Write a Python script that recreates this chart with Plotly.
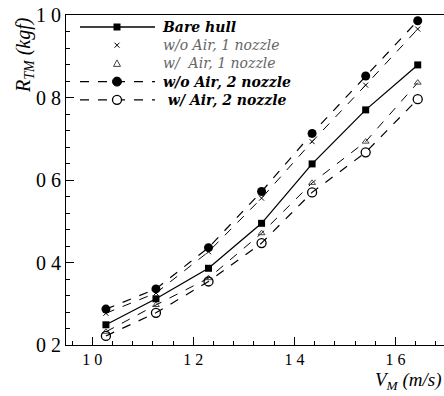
import plotly.graph_objects as go

# ---- data ----
V_M = [10.27, 11.26, 12.30, 13.35, 14.35, 15.41, 16.44]
bare_hull = [0.249, 0.312, 0.386, 0.495, 0.639, 0.770, 0.879]
wo_air_1 = [0.277, 0.326, 0.426, 0.556, 0.693, 0.830, 0.966]
w_air_1 = [0.232, 0.297, 0.362, 0.471, 0.593, 0.693, 0.836]
wo_air_2 = [0.287, 0.336, 0.436, 0.572, 0.713, 0.852, 0.986]
w_air_2 = [0.222, 0.278, 0.354, 0.447, 0.570, 0.667, 0.796]

y_tickvals = [0.2, 0.4, 0.6, 0.8, 1.0]
y_ticktext = ["0 2", "0 4", "0 6", "0 8", "1 0"]
x_tickvals = [10, 12, 14, 16]
x_ticktext = ["1 0", "1 2", "1 4", "1 6"]

legend_labels = ["<b><i>Bare hull</i></b>",
                 "<span style='color:#666'><i>w/o Air, 1 nozzle</i></span>",
                 "<span style='color:#666'><i>w/  Air, 1 nozzle</i></span>",
                 "<b><i>w/o Air, 2 nozzle</i></b>",
                 "<b><i> w/ Air, 2 nozzle</i></b>"]

SERIF = "Liberation Serif"
W, H = 444, 396
ML, MR, MT, MB = 66, 0, 15, 51
PW, PH = W - ML - MR, H - MT - MB
LEG_FONT = 14
LEG_STEP = LEG_FONT * 1.3


def px(xp):  # pixel -> paper x
    return (xp - ML) / PW


def py(yp):  # pixel -> paper y
    return (H - MB - yp) / PH


series = [
    (bare_hull, dict(color="black", width=1.3), dict(symbol="square", size=7, color="black")),
    (wo_air_1, dict(color="black", width=1, dash="dash"),
     dict(symbol="x-thin-open", size=5, color="black", line=dict(width=1, color="black"))),
    (w_air_1, dict(color="black", width=1, dash="dash"),
     dict(symbol="triangle-up-open", size=6, color="#444", line=dict(width=1, color="#444"))),
    (wo_air_2, dict(color="black", width=1.2, dash="dash"), dict(symbol="circle", size=9, color="black")),
    (w_air_2, dict(color="black", width=1.2, dash="dash"),
     dict(symbol="circle-open", size=9, color="black", line=dict(width=1.3, color="black"))),
]

fig = go.Figure()
for (vals, ln, mk), name in zip(series, legend_labels):
    fig.add_trace(go.Scatter(x=V_M, y=vals, mode="lines+markers", name=name,
                             line=ln, marker=mk, showlegend=False))

# ---- hand-drawn legend (no frame), as in the reference ----
row0 = 27
rows_y = [row0 + i * LEG_STEP for i in range(5)]
line_x0, line_x1, mark_x, text_x = 80, 155, 117, 160
shapes = []
for i, yy in enumerate(rows_y):
    if i in (0, 3, 4):
        dash = "solid" if i == 0 else "dash"
        shapes.append(dict(type="line", xref="paper", yref="paper",
                           x0=px(line_x0), x1=px(line_x1), y0=py(yy), y1=py(yy),
                           line=dict(color="black", width=1.3 if i == 0 else 1.2, dash=dash)))
    if i == 0:
        shapes.append(dict(type="rect", xref="paper", yref="paper",
                           x0=px(mark_x - 3.5), x1=px(mark_x + 3.5), y0=py(yy + 3.5), y1=py(yy - 3.5),
                           fillcolor="black", line=dict(width=0)))
    elif i == 1:
        for d in (1, -1):
            shapes.append(dict(type="line", xref="paper", yref="paper",
                               x0=px(mark_x - 2.5), x1=px(mark_x + 2.5),
                               y0=py(yy - 2.5 * d), y1=py(yy + 2.5 * d),
                               line=dict(color="black", width=1)))
    elif i == 2:
        shapes.append(dict(type="path", xref="paper", yref="paper",
                           path=f"M {px(mark_x - 3.5)},{py(yy + 3)} L {px(mark_x + 3.5)},{py(yy + 3)} "
                                f"L {px(mark_x)},{py(yy - 3.5)} Z",
                           line=dict(color="#444", width=1)))
    elif i == 3:
        shapes.append(dict(type="circle", xref="paper", yref="paper",
                           x0=px(mark_x - 4.5), x1=px(mark_x + 4.5), y0=py(yy + 4.5), y1=py(yy - 4.5),
                           fillcolor="black", line=dict(color="black", width=1)))
    else:
        shapes.append(dict(type="circle", xref="paper", yref="paper",
                           x0=px(mark_x - 4.5), x1=px(mark_x + 4.5), y0=py(yy + 4.5), y1=py(yy - 4.5),
                           fillcolor="white", line=dict(color="black", width=1.3)))

# all legend labels in one multi-line text block
fig.add_annotation(text="<br>".join(legend_labels), xref="paper", yref="paper",
                   x=px(text_x), y=py((rows_y[0] + rows_y[-1]) / 2),
                   xanchor="left", yanchor="middle", align="left",
                   showarrow=False, font=dict(family="DejaVu Serif", size=LEG_FONT, color="black"))

fig.update_layout(
    width=W, height=H,
    margin=dict(l=ML, r=MR, t=MT, b=MB),
    paper_bgcolor="white", plot_bgcolor="white",
    font=dict(family=SERIF, color="black"),
    showlegend=False,
    shapes=shapes,
)
fig.update_xaxes(
    range=[9.48, 16.96], showgrid=False, zeroline=False,
    showline=True, linecolor="black", linewidth=1, mirror=True,
    ticks="inside", ticklen=8, tickcolor="black",
    tickvals=x_tickvals, ticktext=x_ticktext,
    tickfont=dict(family=SERIF, size=16),
    minor=dict(ticks="inside", ticklen=4, dtick=0.4, tick0=10, tickcolor="black", showgrid=False),
)
fig.update_yaxes(
    range=[0.2, 1.0], showgrid=False, zeroline=False,
    showline=True, linecolor="black", linewidth=1, mirror=False,
    ticks="inside", ticklen=8, tickcolor="black",
    tickvals=y_tickvals, ticktext=y_ticktext,
    tickfont=dict(family=SERIF, size=20),
    minor=dict(ticks="inside", ticklen=4, dtick=0.04, tick0=0.2, tickcolor="black", showgrid=False),
)

fig.add_annotation(
    text="<i>R</i><sub><i>TM</i></sub><i> (kgf)</i>",
    xref="paper", yref="paper", x=px(24), y=py(55),
    xanchor="center", yanchor="middle", textangle=-90, showarrow=False,
    font=dict(family=SERIF, size=20, color="black"))
fig.add_annotation(
    text="<i>V</i><sub><i>M</i></sub><i> (m/s)</i>",
    xref="paper", yref="paper", x=1.0, y=py(367),
    xanchor="right", yanchor="top", showarrow=False,
    font=dict(family=SERIF, size=19, color="black"))

fig.write_html("out.html")
